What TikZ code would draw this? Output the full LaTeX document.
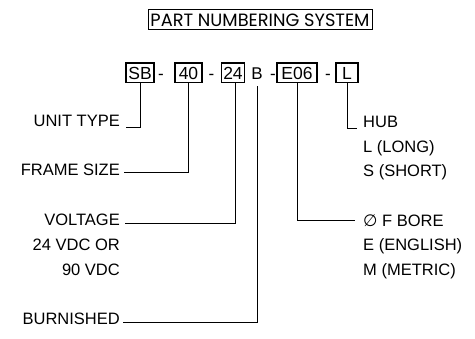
\documentclass[tikz,border=0pt]{standalone}
\usepackage{fontspec}
\setmainfont{Liberation Sans}
\newfontfamily\titlefont{Poppins}
\newfontfamily\symfont{DejaVu Sans}
\begin{document}
\begin{tikzpicture}[x=1pt,y=-1pt,
  lbl/.style={inner sep=0pt,font=\fontsize{16.5}{18}\selectfont},
  codebox/.style={draw,line width=1.5pt,inner xsep=2pt,inner ysep=3.5pt,text height=12.5pt,text depth=0pt,font=\fontsize{17.5}{19}\selectfont},
  sep/.style={inner sep=0pt,anchor=base,font=\fontsize{17}{19}\selectfont},
  conn/.style={line width=1pt}]
\useasboundingbox (0,0) rectangle (475,339);
% title
\node[draw,line width=1pt,minimum width=224pt,minimum height=20pt,inner sep=0pt,
      font=\titlefont\fontsize{17.8}{18}\selectfont] (title) at (260,20) {PART NUMBERING SYSTEM};
% code boxes
\node[codebox,minimum width=28pt] (sb) at (140,73) {SB};
\node[sep] (d1) at (161,79.25) {-};
\node[codebox,minimum width=27pt] (f40) at (188.5,73) {40};
\node[sep] (d2) at (211.5,79.25) {-};
\node[codebox,minimum width=23pt] (v24) at (233,73) {24};
\node[sep,inner ysep=7pt,text depth=0pt] (b) at (257,79.25) {B};
\node[sep] (d3) at (273,79.25) {-};
\node[codebox,minimum width=40pt] (e06) at (297,73) {E06};
\node[sep] (d4) at (328,79.25) {-};
\node[codebox,minimum width=22pt] (hl) at (347,73) {L};
% left labels
\node[lbl,anchor=base east] (ut) at (120,126.7) {UNIT TYPE};
\node[lbl,anchor=base east] (fs) at (120,176) {FRAME SIZE};
\node[lbl,anchor=base east] (vo) at (120,225.7) {VOLTAGE};
\node[lbl,anchor=base east] (vo2) at (120,251) {24 VDC OR};
\node[lbl,anchor=base east] (vo3) at (120,276) {90 VDC};
\node[lbl,anchor=base east] (bu) at (120,325) {BURNISHED};
% right labels
\node[lbl,anchor=base west] (hub) at (363,127.7) {HUB};
\node[lbl,anchor=base west] (hub2) at (363,153) {L (LONG)};
\node[lbl,anchor=base west] (hub3) at (363,177) {S (SHORT)};
\node[lbl,anchor=base west] (bo) at (363,226.7) {{\symfont ∅} F BORE};
\node[lbl,anchor=base west] (bo2) at (363,251) {E (ENGLISH)};
\node[lbl,anchor=base west] (bo3) at (363,275.5) {M (METRIC)};
% connectors
\draw[conn] (sb.south) |- ([xshift=6pt,yshift=-0.6pt]ut.base east);
\draw[conn] (f40.south) |- ([xshift=4pt,yshift=3.7pt]fs.base east);
\draw[conn] ([xshift=2pt]v24.south) |- ([xshift=5pt,yshift=1.7pt]vo.base east);
\draw[conn] (b.south) |- ([xshift=3pt,yshift=2.3pt]bu.base east);
\draw[conn] (e06.south) |- ([xshift=-8pt,yshift=6pt]bo.base west);
\draw[conn] (hl.south) |- ([xshift=-6pt,yshift=-0.6pt]hub.base west);
\end{tikzpicture}
\end{document}
